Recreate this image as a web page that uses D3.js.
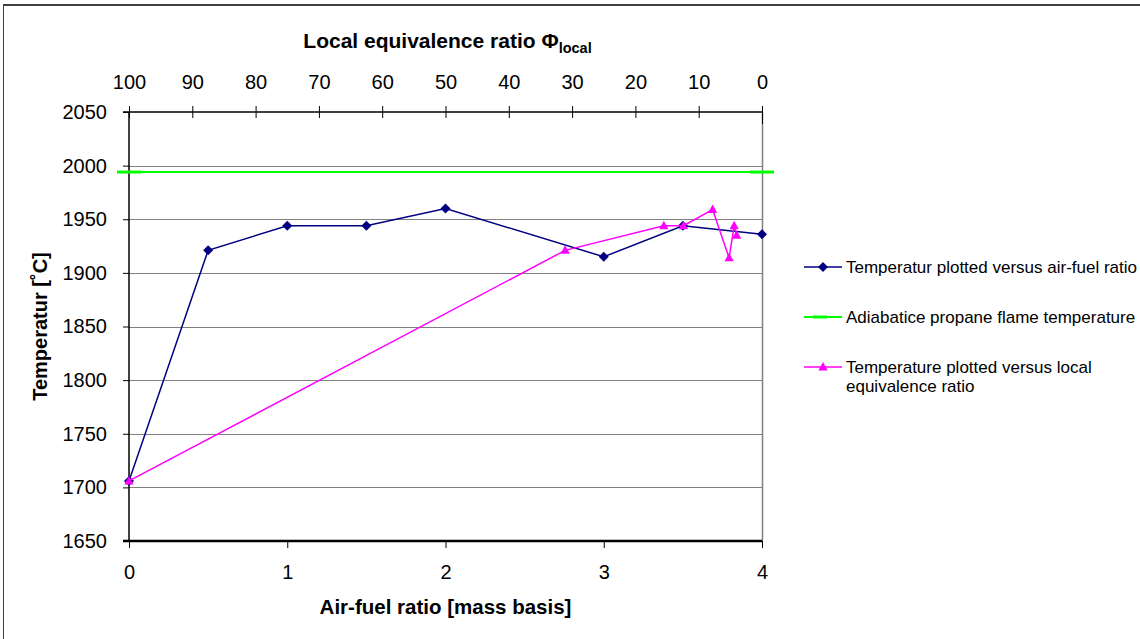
<!DOCTYPE html>
<html>
<head>
<meta charset="utf-8">
<script src="https://cdn.jsdelivr.net/npm/d3@7"></script>
<style>
  body { margin: 0; background: #fff; }
  text { font-family: "Liberation Sans", Arial, sans-serif; fill: #000; }
</style>
</head>
<body>
<div id="chart"></div>
<script>
// data
const afr = [0, 0.5, 1, 1.5, 2, 3, 3.5, 4];
const tempAfr = [1706, 1921, 1944, 1944, 1960, 1915, 1944, 1936];
const phiLocal = [100, 31.1, 15.5, 12.4, 7.8, 5.2, 4.4, 4.0];
const tempPhi = [1706, 1921, 1944, 1944, 1959, 1914, 1944, 1935];
const adiabX = [0, 4];
const adiabTemp = [1994, 1994];
const yTicks = [1650, 1700, 1750, 1800, 1850, 1900, 1950, 2000, 2050];
const xTicks = [0, 1, 2, 3, 4];
const phiTicks = [100, 90, 80, 70, 60, 50, 40, 30, 20, 10, 0];
const legendLabels = [
    ["Temperatur plotted versus air-fuel ratio"],
    ["Adiabatice propane flame temperature"],
    ["Temperature plotted versus local", "equivalence ratio"]
];

const width = 1140, height = 639;
const plot = {left: 129, right: 762, top: 112, bottom: 541};

const svg = d3.select("#chart").append("svg")
    .attr("width", width)
    .attr("height", height);

svg.append("rect").attr("width", width).attr("height", height).attr("fill", "#fff");

// outer frame (only top and left edges show)
svg.append("line").attr("x1", 3).attr("x2", width).attr("y1", 5).attr("y2", 5)
    .attr("stroke", "#404040").attr("stroke-width", 2);
svg.append("line").attr("x1", 3.5).attr("x2", 3.5).attr("y1", 5).attr("y2", height)
    .attr("stroke", "#404040").attr("stroke-width", 1);

const x = d3.scaleLinear().domain([0, 4]).range([plot.left, plot.right]);
const xPhi = d3.scaleLinear().domain([100, 0]).range([plot.left, plot.right]);
const y = d3.scaleLinear().domain([1650, 2050]).range([plot.bottom, plot.top]);

// gridlines
svg.append("g").selectAll("line")
    .data(yTicks.slice(1, -1))
    .enter().append("line")
    .attr("x1", plot.left).attr("x2", plot.right)
    .attr("y1", d => Math.round(y(d)) + 0.5).attr("y2", d => Math.round(y(d)) + 0.5)
    .attr("stroke", "#808080").attr("stroke-width", 1);

// right edge of plot area
svg.append("line")
    .attr("x1", plot.right + 0.5).attr("x2", plot.right + 0.5)
    .attr("y1", plot.top).attr("y2", plot.bottom)
    .attr("stroke", "#808080").attr("stroke-width", 1.5);

// axes
const yAxis = svg.append("g")
    .attr("transform", `translate(${plot.left},0)`)
    .call(d3.axisLeft(y).tickValues(yTicks).tickSize(6).tickPadding(16).tickFormat(d3.format("d")));
const xAxis = svg.append("g")
    .attr("transform", `translate(0,${plot.bottom})`)
    .call(d3.axisBottom(x).tickValues(xTicks).tickSize(7).tickPadding(17).tickFormat(d3.format("d")));
const topAxis = svg.append("g")
    .attr("transform", `translate(0,${plot.top})`)
    .call(d3.axisTop(xPhi).tickValues(phiTicks).tickSize(6).tickPadding(17).tickFormat(d3.format("d")));

[yAxis, xAxis, topAxis].forEach(g => {
    g.select(".domain").attr("stroke", "#000").attr("stroke-width", 1.5);
    g.selectAll(".tick line").attr("stroke", "#000");
    g.selectAll(".tick text").attr("font-size", 20)
        .attr("font-family", "'Liberation Sans', Arial, sans-serif").attr("fill", "#000");
});
xAxis.select(".domain").attr("stroke-width", 2.5).attr("d", `M${plot.left - 6},0H${plot.right}`);
yAxis.select(".domain").attr("d", `M0,${plot.top}V${plot.bottom}`);
topAxis.select(".domain").attr("d", `M${plot.left - 6},0H${plot.right}`);
// top ticks cross the axis line
topAxis.selectAll(".tick line").attr("y1", 6).attr("y2", -6);
topAxis.selectAll(".tick").filter(d => d === 0).select("line").attr("y2", -6).attr("y1", 12);

// titles
const topTitle = svg.append("text")
    .attr("x", (plot.left + plot.right) / 2 + 2).attr("y", 48)
    .attr("text-anchor", "middle").attr("font-weight", "bold").attr("font-size", 21)
    .text("Local equivalence ratio Φ");
topTitle.append("tspan").attr("dy", 5).attr("font-size", 14.5).text("local");

svg.append("text")
    .attr("x", (plot.left + plot.right) / 2).attr("y", 614)
    .attr("text-anchor", "middle").attr("font-weight", "bold").attr("font-size", 20.5)
    .text("Air-fuel ratio [mass basis]");

svg.append("text")
    .attr("transform", `translate(47,${(plot.top + plot.bottom) / 2}) rotate(-90)`)
    .attr("text-anchor", "middle").attr("font-weight", "bold").attr("font-size", 20)
    .text("Temperatur [˚C]");

// markers
const diamond = "M0,-5L5,0L0,5L-5,0Z";
const triangle = "M0,-5L4.6,3.5L-4.6,3.5Z";

const blueData = afr.map((a, i) => [a, tempAfr[i]]);
const pinkData = phiLocal.map((p, i) => [p, tempPhi[i]]);
const greenData = adiabX.map((a, i) => [a, adiabTemp[i]]);

// series 1 - versus air-fuel ratio
svg.append("path")
    .datum(blueData)
    .attr("fill", "none").attr("stroke", "#000080").attr("stroke-width", 1.5)
    .attr("d", d3.line().x(d => x(d[0])).y(d => y(d[1])));
svg.append("g").selectAll("path")
    .data(blueData)
    .enter().append("path")
    .attr("d", diamond).attr("fill", "#000080")
    .attr("transform", d => `translate(${x(d[0])},${y(d[1])})`);

// series 2 - adiabatic flame temperature
svg.append("path")
    .datum(greenData)
    .attr("fill", "none").attr("stroke", "#00ff00").attr("stroke-width", 2)
    .attr("d", d3.line().x(d => x(d[0])).y(d => y(d[1])));
svg.append("g").selectAll("rect")
    .data(greenData)
    .enter().append("rect")
    .attr("x", d => x(d[0]) - 12).attr("y", d => y(d[1]) - 1.5)
    .attr("width", 24).attr("height", 3).attr("fill", "#00ff00");

// series 3 - versus local equivalence ratio
svg.append("path")
    .datum(pinkData)
    .attr("fill", "none").attr("stroke", "#ff00ff").attr("stroke-width", 1.5)
    .attr("d", d3.line().x(d => xPhi(d[0])).y(d => y(d[1])));
svg.append("g").selectAll("path")
    .data(pinkData)
    .enter().append("path")
    .attr("d", triangle).attr("fill", "#ff00ff")
    .attr("transform", d => `translate(${xPhi(d[0])},${y(d[1])})`);

// legend
const legendColors = ["#000080", "#00ff00", "#ff00ff"];
const legendY = [267, 317, 367];
const legend = svg.append("g").attr("class", "legend");
legendLabels.forEach((lines, i) => {
    const g = legend.append("g").attr("transform", `translate(804,${legendY[i]})`);
    g.append("line").attr("x1", 0).attr("x2", 38).attr("y1", 0).attr("y2", 0)
        .attr("stroke", legendColors[i]).attr("stroke-width", i === 1 ? 2 : 1.5);
    if (i === 0) g.append("path").attr("d", diamond).attr("fill", legendColors[i]).attr("transform", "translate(19,0)");
    if (i === 1) g.append("rect").attr("x", 9).attr("y", -1.5).attr("width", 14).attr("height", 3).attr("fill", legendColors[i]);
    if (i === 2) g.append("path").attr("d", triangle).attr("fill", legendColors[i]).attr("transform", "translate(19,0)");
    const t = g.append("text").attr("x", 42).attr("y", 6).attr("font-size", 17);
    lines.forEach((l, j) => t.append("tspan").attr("x", 42).attr("dy", j === 0 ? 0 : 19).text(l));
});
</script>
</body>
</html>
